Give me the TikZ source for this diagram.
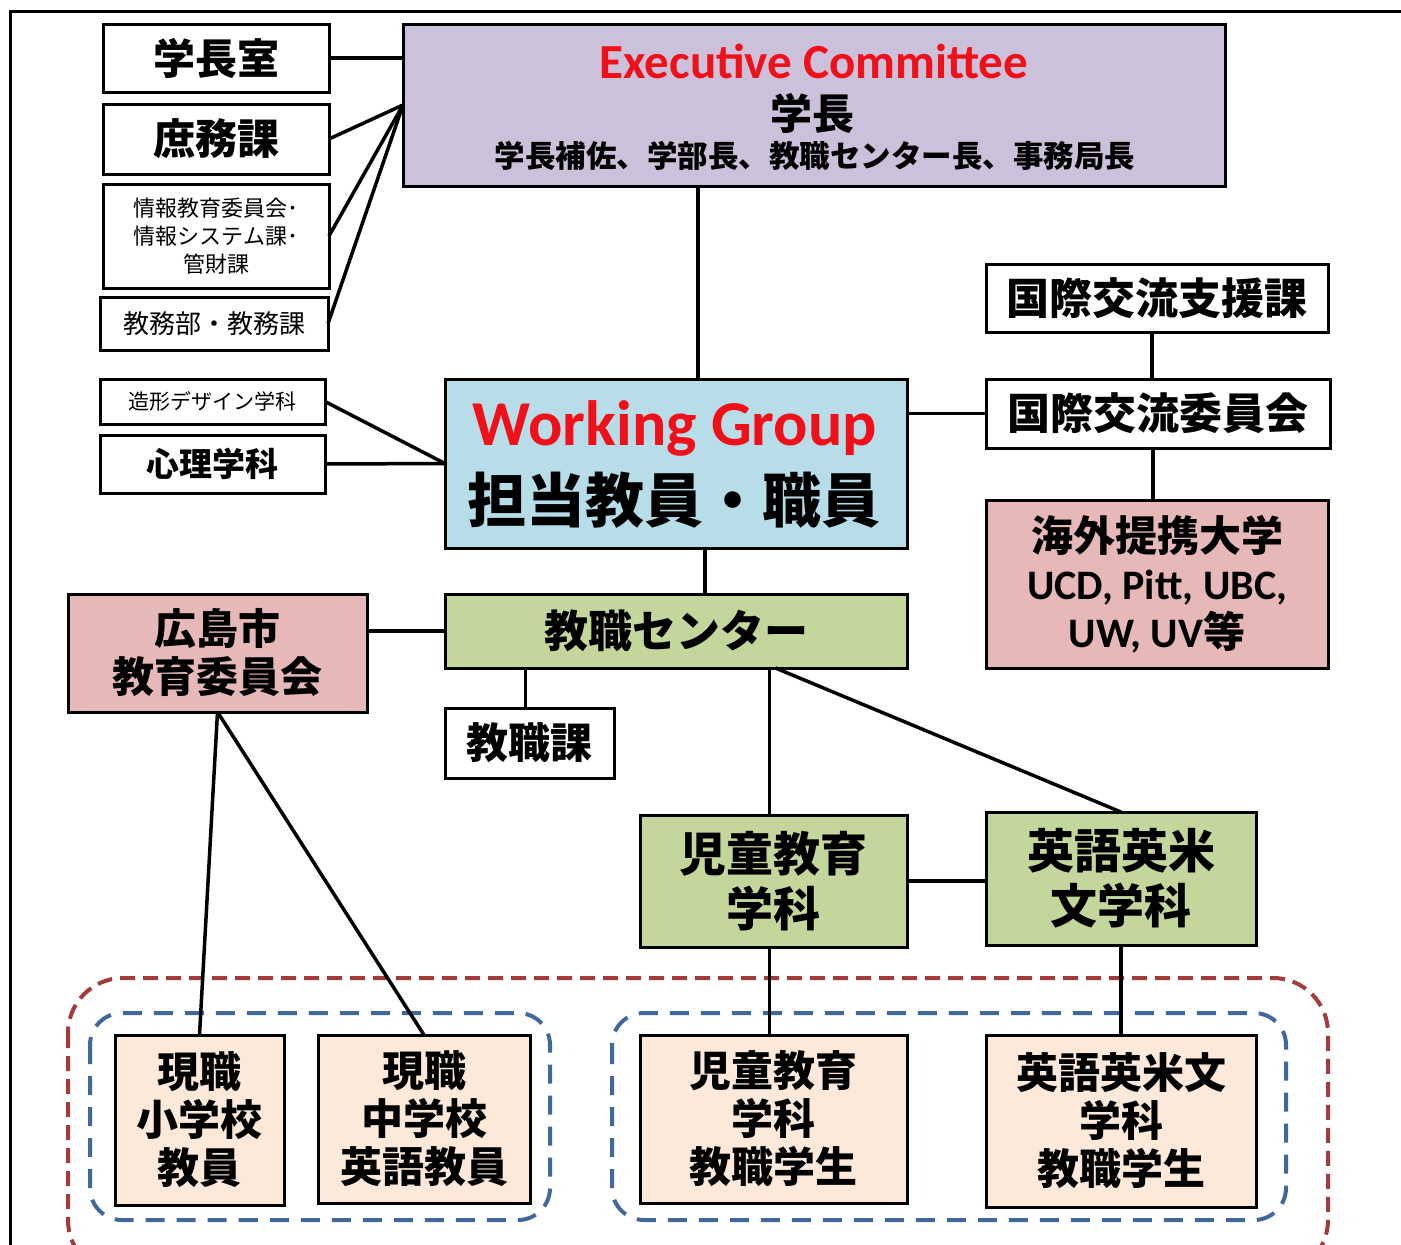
\documentclass[tikz,border=0pt]{standalone}
\usepackage{fontspec}
\setmainfont{Noto Sans CJK JP}
\newfontfamily\lat{Carlito}
\usetikzlibrary{calc}
\definecolor{lav}{HTML}{CCC1DA}
\definecolor{lblue}{HTML}{B7DDE8}
\definecolor{pinkbox}{HTML}{E6B9B8}
\definecolor{greenbox}{HTML}{C3D69B}
\definecolor{peach}{HTML}{FDE9D9}
\definecolor{dred}{HTML}{A33B3B}
\definecolor{dblue}{HTML}{41689A}
\definecolor{titlered}{HTML}{F0101A}
\newcommand\fs[2]{\fontsize{#1}{#2}\selectfont}
\begin{document}
\begin{tikzpicture}[x=1pt,y=-1pt,
  box/.style={draw=black, line width=3pt, inner sep=0pt, outer sep=0pt, align=center, text=black},
  conn/.style={line width=3.5pt, draw=black},
  lbl/.style={inner sep=0pt, align=center},
  grp/.style={line width=4pt, rounded corners=#1},
]
\useasboundingbox (0,0) rectangle (1401,1245);
% outer frame
\draw[line width=3pt] (10,1246) -- (10,11) -- (1402,11);

% dashed groups
\draw[grp=55, draw=dred, dash pattern=on 15pt off 8pt] (68,978) rectangle (1328,1275);
\draw[grp=32, draw=dblue, dash pattern=on 19pt off 12pt] (90,1013) rectangle (550,1220);
\draw[grp=32, draw=dblue, dash pattern=on 19pt off 12pt] (612,1013) rectangle (1286,1220);

% left column
\node[box, minimum width=226, minimum height=68, font=\fs{42}{48}\bfseries] (gk) at (216,58) {学長室};
\node[box, minimum width=226, minimum height=70, font=\fs{42}{48}\bfseries] (sh) at (216,139) {庶務課};
\node[box, minimum width=226, minimum height=104, font=\fs{22}{28}] (jo) at (216,236) {情報教育委員会･\\情報システム課･\\管財課};
\node[box, minimum width=228, minimum height=53, font=\fs{26}{30}] (km) at (214,323.5) {教務部・教務課};
\node[box, minimum width=225, minimum height=45, font=\fs{21}{26}] (zk) at (212.5,401.5) {造形デザイン学科};
\node[box, minimum width=225, minimum height=58, font=\fs{33}{38}\bfseries] (sr) at (212.5,464) {心理学科};

% executive committee
\node[box, fill=lav, minimum width=822, minimum height=162] (ex) at (814,105) {};
\node[lbl, font=\lat\bfseries\fs{49}{56}, text=titlered] (ext1) at (814,61) {Executive Committee};
\node[lbl, font=\fs{42}{48}\bfseries] (ext2) at (812,113) {学長};
\node[lbl, font=\fs{30.5}{36}\bfseries] (ext3) at (815,156) {学長補佐、学部長、教職センター長、事務局長};

% working group
\node[box, fill=lblue, minimum width=462, minimum height=169] (wg) at (676,463.5) {};
\node[lbl, font=\lat\bfseries\fs{64}{72}, text=titlered] (wgt1) at (675,428) {Working Group};
\node[lbl, font=\fs{59}{66}\bfseries] (wgt2) at (674,500) {担当教員・職員};

% right column
\node[box, minimum width=342, minimum height=68, font=\fs{43}{48}\bfseries] (si) at (1157,298) {国際交流支援課};
\node[box, minimum width=344, minimum height=69, font=\fs{43}{48}\bfseries] (ii) at (1158,413.5) {国際交流委員会};
\node[box, fill=pinkbox, minimum width=342, minimum height=168, font=\fs{42}{48}\bfseries] (kg) at (1157,584)
  {海外提携大学\\{\lat UCD, Pitt, UBC,}\\{\lat UW, UV}等};

% center
\node[box, fill=greenbox, minimum width=462, minimum height=74, font=\fs{44}{50}\bfseries] (ct) at (676,631) {教職センター};
\node[box, fill=pinkbox, minimum width=299, minimum height=118, font=\fs{42}{48}\bfseries] (hi) at (217.5,653) {広島市\\教育委員会};
\node[box, minimum width=169, minimum height=70, font=\fs{42}{48}\bfseries] (kk) at (529.5,743) {教職課};
\node[box, fill=greenbox, minimum width=267, minimum height=132, font=\fs{47}{55}\bfseries] (jd) at (773.5,881) {児童教育\\学科};
\node[box, fill=greenbox, minimum width=270, minimum height=133, font=\fs{47}{55}\bfseries] (eg) at (1121,878.5) {英語英米\\文学科};

% bottom
\node[box, fill=peach, minimum width=169, minimum height=170, font=\fs{42}{48}\bfseries] (b1) at (199.5,1120) {現職\\小学校\\教員};
\node[box, fill=peach, minimum width=212, minimum height=168, font=\fs{42}{48}\bfseries] (b2) at (424,1119) {現職\\中学校\\英語教員};
\node[box, fill=peach, minimum width=267, minimum height=168, font=\fs{42}{48}\bfseries] (b3) at (773.5,1119) {児童教育\\学科\\教職学生};
\node[box, fill=peach, minimum width=270, minimum height=172, font=\fs{42}{48}\bfseries] (b4) at (1121,1121) {英語英米文\\学科\\教職学生};

% connectors
\draw[conn] (gk.east) -- (gk.east -| ex.west);
\draw[conn] (sh.east) -- (ex.west);
\draw[conn] (jo.east) -- (ex.west);
\draw[conn] (km.east) -- (ex.west);
\draw[conn] ([xshift=22]wg.north) -- ([xshift=22]wg.north |- ex.south);
\draw[conn] (zk.east) -- (wg.west);
\draw[conn] (sr.east) -- (wg.west);
\draw[conn] (ii.west) -- (ii.west -| wg.east);
\draw[conn] ([xshift=-5]si.south) -- ([xshift=-5]si.south |- ii.north);
\draw[conn] ([xshift=-5]ii.south) -- ([xshift=-5]ii.south |- kg.north);
\draw[conn] ([xshift=29]wg.south) -- ([xshift=29]wg.south |- ct.north);
\draw[conn] (ct.west) -- (ct.west -| hi.east);
\draw[conn] ([xshift=-4]kk.north) -- ([xshift=-4]kk.north |- ct.south);
\draw[conn] ([xshift=-4]jd.north) -- ([xshift=-4]jd.north |- ct.south);
\draw[conn] ([xshift=2]jd.north |- ct.south) -- (eg.north);
\draw[conn] (jd.east) -- (jd.east -| eg.west);
\draw[conn] (hi.south) -- (b1.north);
\draw[conn] (hi.south) -- (b2.north);
\draw[conn] ([xshift=-4]jd.south) -- ([xshift=-4]jd.south |- b3.north);
\draw[conn] (eg.south) -- (eg.south |- b4.north);
\end{tikzpicture}
\end{document}
